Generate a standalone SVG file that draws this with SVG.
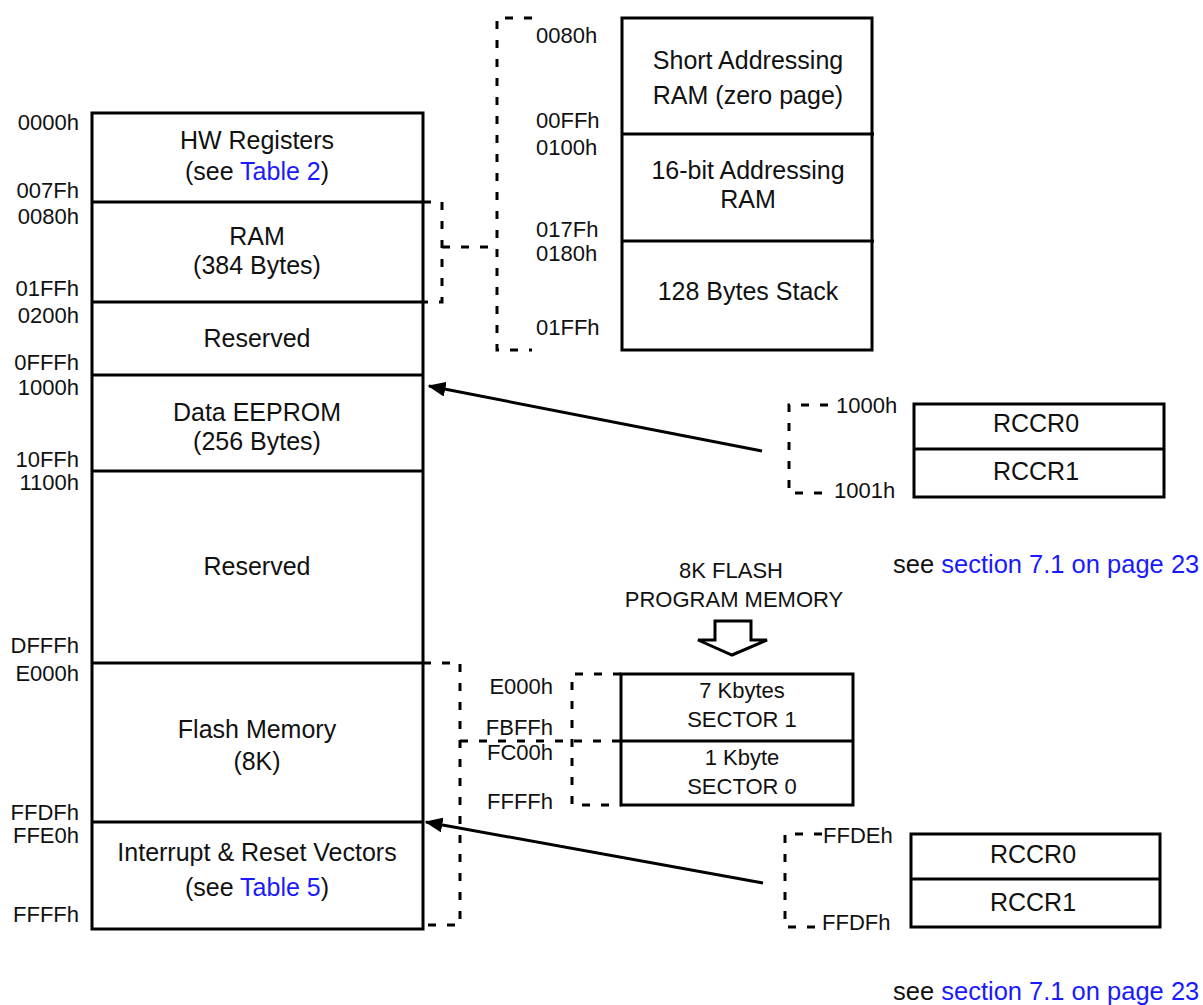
<svg xmlns="http://www.w3.org/2000/svg" width="1203" height="1005" viewBox="0 0 1203 1005">
<defs>
<style>
.box{fill:#fff;stroke:#000;stroke-width:3}
.ln{stroke:#000;stroke-width:3;fill:none}
.dash{stroke:#000;stroke-width:3;fill:none;stroke-dasharray:8 11}
.t{font-family:"Liberation Sans",Arial,sans-serif;font-size:25px;fill:#111;text-anchor:middle}
.a{font-family:"Liberation Sans",Arial,sans-serif;font-size:22px;fill:#111}
.r{text-anchor:end}
.s{font-size:22px}
.see{font-size:25.5px;text-anchor:start}
.lk{fill:#1a1aff}
</style>
<marker id="ah" markerWidth="6" markerHeight="5" refX="5.5" refY="2.5" orient="auto" markerUnits="strokeWidth">
<path d="M0,0 L6,2.5 L0,5 Z" fill="#000"/>
</marker>
</defs>
<rect width="1203" height="1005" fill="#fff"/>

<g id="main-map">
<rect class="box" x="92" y="113" width="331" height="816"/>
<line class="ln" x1="92" y1="202" x2="423" y2="202"/>
<line class="ln" x1="92" y1="302" x2="423" y2="302"/>
<line class="ln" x1="92" y1="375" x2="423" y2="375"/>
<line class="ln" x1="92" y1="471" x2="423" y2="471"/>
<line class="ln" x1="92" y1="663" x2="423" y2="663"/>
<line class="ln" x1="92" y1="822" x2="423" y2="822"/>
</g>

<g id="hw-registers">
<text class="t" x="257" y="149">HW Registers</text>
<text class="t" x="257" y="180">(see <tspan class="lk">Table 2</tspan>)</text>
</g>
<g id="ram">
<text class="t" x="257" y="245">RAM</text>
<text class="t" x="257" y="274">(384 Bytes)</text>
</g>
<g id="reserved1">
<text class="t" x="257" y="347">Reserved</text>
</g>
<g id="data-eeprom">
<text class="t" x="257" y="421">Data EEPROM</text>
<text class="t" x="257" y="450">(256 Bytes)</text>
</g>
<g id="reserved2">
<text class="t" x="257" y="575">Reserved</text>
</g>
<g id="flash-memory">
<text class="t" x="257" y="738">Flash Memory</text>
<text class="t" x="257" y="770">(8K)</text>
</g>
<g id="vectors">
<text class="t" x="257" y="861">Interrupt &amp; Reset Vectors</text>
<text class="t" x="257" y="896">(see <tspan class="lk">Table 5</tspan>)</text>
</g>

<g id="left-addresses">
<text class="a r" x="79" y="130">0000h</text>
<text class="a r" x="79" y="198">007Fh</text>
<text class="a r" x="79" y="224">0080h</text>
<text class="a r" x="79" y="296">01FFh</text>
<text class="a r" x="79" y="323">0200h</text>
<text class="a r" x="79" y="370">0FFFh</text>
<text class="a r" x="79" y="395">1000h</text>
<text class="a r" x="79" y="467">10FFh</text>
<text class="a r" x="79" y="490">1100h</text>
<text class="a r" x="79" y="653">DFFFh</text>
<text class="a r" x="79" y="681">E000h</text>
<text class="a r" x="79" y="820">FFDFh</text>
<text class="a r" x="79" y="843">FFE0h</text>
<text class="a r" x="79" y="922">FFFFh</text>
</g>

<g id="ram-detail">
<rect class="box" x="622" y="18" width="250" height="332"/>
<line class="ln" x1="622" y1="134" x2="874" y2="134"/>
<line class="ln" x1="622" y1="241" x2="874" y2="241"/>
<text class="t" x="748" y="69">Short Addressing</text>
<text class="t" x="748" y="104">RAM (zero page)</text>
<text class="t" x="748" y="179">16-bit Addressing</text>
<text class="t" x="748" y="208">RAM</text>
<text class="t" x="748" y="300">128 Bytes Stack</text>
<text class="a" x="536" y="43">0080h</text>
<text class="a" x="536" y="128">00FFh</text>
<text class="a" x="536" y="155">0100h</text>
<text class="a" x="536" y="237">017Fh</text>
<text class="a" x="536" y="261">0180h</text>
<text class="a" x="536" y="335">01FFh</text>
</g>

<g id="eeprom-detail">
<rect class="box" x="914" y="404" width="250" height="93"/>
<line class="ln" x1="914" y1="449" x2="1164" y2="449"/>
<text class="t" x="1036" y="432">RCCR0</text>
<text class="t" x="1036" y="480">RCCR1</text>
<text class="a" x="836" y="413">1000h</text>
<text class="a" x="834" y="498">1001h</text>
<text class="t see" x="893" y="573">see <tspan class="lk">section 7.1 on page 23</tspan></text>
</g>

<g id="flash-title">
<text class="t s" x="731" y="578">8K FLASH</text>
<text class="t s" x="734" y="607">PROGRAM MEMORY</text>
<path d="M715,621 L751,621 L751,640 L767,640 L732,655 L698,640 L715,640 Z" fill="#fff" stroke="#000" stroke-width="3" stroke-linejoin="miter"/>
</g>

<g id="flash-detail">
<rect class="box" x="621" y="674" width="232" height="131"/>
<line class="ln" x1="621" y1="741" x2="853" y2="741"/>
<text class="t s" x="742" y="698">7 Kbytes</text>
<text class="t s" x="742" y="727">SECTOR 1</text>
<text class="t s" x="742" y="765">1 Kbyte</text>
<text class="t s" x="742" y="794">SECTOR 0</text>
<text class="a r" x="553" y="694">E000h</text>
<text class="a r" x="553" y="735">FBFFh</text>
<text class="a r" x="553" y="760">FC00h</text>
<text class="a r" x="553" y="809">FFFFh</text>
</g>

<g id="vectors-detail">
<rect class="box" x="911" y="834" width="249" height="93"/>
<line class="ln" x1="911" y1="879" x2="1160" y2="879"/>
<text class="t" x="1033" y="863">RCCR0</text>
<text class="t" x="1033" y="911">RCCR1</text>
<text class="a" x="823" y="843">FFDEh</text>
<text class="a" x="822" y="930">FFDFh</text>
<text class="t see" x="893" y="1000">see <tspan class="lk">section 7.1 on page 23</tspan></text>
</g>

<g id="connectors">
<polyline class="dash" points="423,202 442,202 442,302 423,302"/>
<line class="dash" x1="442" y1="247" x2="497" y2="247"/>
<polyline class="dash" points="532,18 497,18 497,350 532,350"/>
<polyline class="dash" points="828,405 789,405 789,493 828,493"/>
<polyline class="dash" points="423,663 460,663 460,925 423,925"/>
<line class="dash" x1="460" y1="741" x2="621" y2="741"/>
<polyline class="dash" points="621,674 572,674 572,805 621,805"/>
<polyline class="dash" points="822,834 785,834 785,927 822,927"/>
<line class="ln" x1="762" y1="451" x2="429" y2="386" marker-end="url(#ah)"/>
<line class="ln" x1="763" y1="883" x2="426" y2="822" marker-end="url(#ah)"/>
</g>
</svg>
